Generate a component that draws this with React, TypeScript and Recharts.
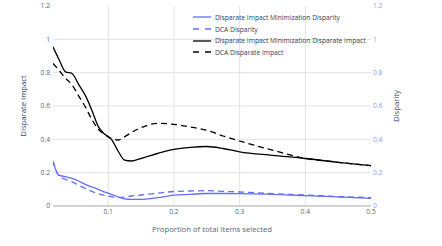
import { LineChart, Line, XAxis, YAxis, CartesianGrid, Legend, Label } from 'recharts';

// proportion of total items selected
const proportions = [0.016, 0.025, 0.035, 0.045, 0.055, 0.065, 0.075, 0.085, 0.095, 0.105, 0.115, 0.125, 0.135, 0.15, 0.175, 0.2, 0.225, 0.25, 0.275, 0.3, 0.35, 0.4, 0.45, 0.5];

const dimDisparity = [0.265, 0.185, 0.176, 0.166, 0.15, 0.13, 0.115, 0.1, 0.083, 0.07, 0.055, 0.043, 0.04, 0.04, 0.05, 0.065, 0.07, 0.075, 0.075, 0.074, 0.07, 0.062, 0.055, 0.046];
const dcaDisparity = [0.27, 0.18, 0.16, 0.145, 0.125, 0.106, 0.088, 0.073, 0.063, 0.056, 0.05, 0.054, 0.06, 0.066, 0.077, 0.087, 0.09, 0.092, 0.088, 0.084, 0.074, 0.066, 0.057, 0.05];
const dimImpact = [0.955, 0.88, 0.805, 0.795, 0.73, 0.665, 0.576, 0.476, 0.43, 0.4, 0.33, 0.275, 0.27, 0.285, 0.315, 0.34, 0.352, 0.357, 0.345, 0.325, 0.304, 0.285, 0.262, 0.242];
const dcaImpact = [0.855, 0.815, 0.767, 0.726, 0.661, 0.596, 0.52, 0.46, 0.428, 0.405, 0.396, 0.415, 0.44, 0.47, 0.496, 0.49, 0.474, 0.455, 0.42, 0.39, 0.335, 0.286, 0.262, 0.242];

const xTicks = [0.1, 0.2, 0.3, 0.4, 0.5];
const yTicks = [0, 0.2, 0.4, 0.6, 0.8, 1, 1.2];

const data = proportions.map((p, i) => ({
  p,
  dimDisparity: dimDisparity[i],
  dcaDisparity: dcaDisparity[i],
  dimImpact: dimImpact[i],
  dcaImpact: dcaImpact[i],
}));

const BLUE = '#636efa';
const FONT = '"Open Sans", sans-serif';
const DASH = '6 4';

const series = [
  { key: 'dimDisparity', name: 'Disparate Impact Minimization Disparity', color: BLUE, dash: undefined, axis: 'right' },
  { key: 'dcaDisparity', name: 'DCA Disparity', color: BLUE, dash: DASH, axis: 'right' },
  { key: 'dimImpact', name: 'Disparate Impact Minimization Disparate Impact', color: '#000', dash: undefined, axis: 'left' },
  { key: 'dcaImpact', name: 'DCA Disparate Impact', color: '#000', dash: DASH, axis: 'left' },
];

const renderLegend = () => (
  <div style={{ fontFamily: FONT, fontSize: 6.7, color: '#2a3f5f' }}>
    {series.map((s) => (
      <div key={s.key} style={{ display: 'flex', alignItems: 'center', height: 11.7 }}>
        <svg width={18} height={4} style={{ marginRight: 4 }}>
          <line x1={0} y1={2} x2={18} y2={2} stroke={s.color} strokeWidth={1.3} strokeDasharray={s.dash ? '6 6' : undefined} />
        </svg>
        <span style={{ whiteSpace: 'nowrap' }}>{s.name}</span>
      </div>
    ))}
  </div>
);

const yTitle = (text: string, dx: number) => (props: any) => {
  const vb = props.viewBox || {};
  const cx = vb.x + dx;
  const cy = vb.y + vb.height / 2;
  return (
    <text x={cx} y={cy} transform={`rotate(-90 ${cx} ${cy})`} textAnchor="middle" dominantBaseline="central" fill="#2a3f5f" fontSize={7.7} fontFamily={FONT}>
      {text}
    </text>
  );
};

export default function App() {
  return (
    <div style={{ position: 'absolute', left: 0, top: 0, width: 442, height: 246, background: '#fff' }}>
      <LineChart width={442} height={246} data={data} margin={{ top: 6, right: 0, bottom: 10, left: 0 }}>
        <CartesianGrid yAxisId="left" stroke="#e3e3e3" strokeWidth={1} horizontalValues={[0.2, 0.4, 0.6, 0.8, 1]} verticalValues={[0.1, 0.2, 0.3, 0.4]} />
        <XAxis
          dataKey="p"
          type="number"
          domain={[0.016, 0.5]}
          ticks={xTicks}
          allowDataOverflow
          height={30}
          tickSize={0}
          tickMargin={3}
          axisLine={{ stroke: '#c4c4c4', strokeWidth: 1.5 }}
          tick={{ fontSize: 6.7, fill: '#506784', fontFamily: FONT }}
        >
          <Label value="Proportion of total items selected" position="insideBottom" offset={4} fill="#506784" fontSize={7.7} fontFamily={FONT} />
        </XAxis>
        <YAxis
          yAxisId="left"
          domain={[0, 1.2]}
          ticks={yTicks}
          width={53}
          tickSize={0}
          tickMargin={3}
          axisLine={false}
          tick={{ fontSize: 6.7, fill: '#506784', fontFamily: FONT }}
        >
          <Label content={yTitle('Disparate Impact', 23)} />
        </YAxis>
        <YAxis
          yAxisId="right"
          orientation="right"
          domain={[0, 1.2]}
          ticks={yTicks}
          width={71}
          tickSize={0}
          tickMargin={2}
          axisLine={false}
          tick={{ fontSize: 6.7, fill: '#9499fa', fontFamily: FONT }}
        >
          <Label content={yTitle('Disparity', 25)} />
        </YAxis>
        <Legend content={renderLegend} layout="vertical" verticalAlign="middle" align="center" wrapperStyle={{ position: 'absolute', top: 11.5, left: 193, width: 'auto', height: 'auto' }} />
        {series.map((s) => (
          <Line
            key={s.key}
            yAxisId={s.axis}
            dataKey={s.key}
            name={s.name}
            type="monotone"
            stroke={s.color}
            strokeWidth={1.3}
            strokeDasharray={s.dash}
            dot={false}
            isAnimationActive={false}
          />
        ))}
      </LineChart>
    </div>
  );
}
